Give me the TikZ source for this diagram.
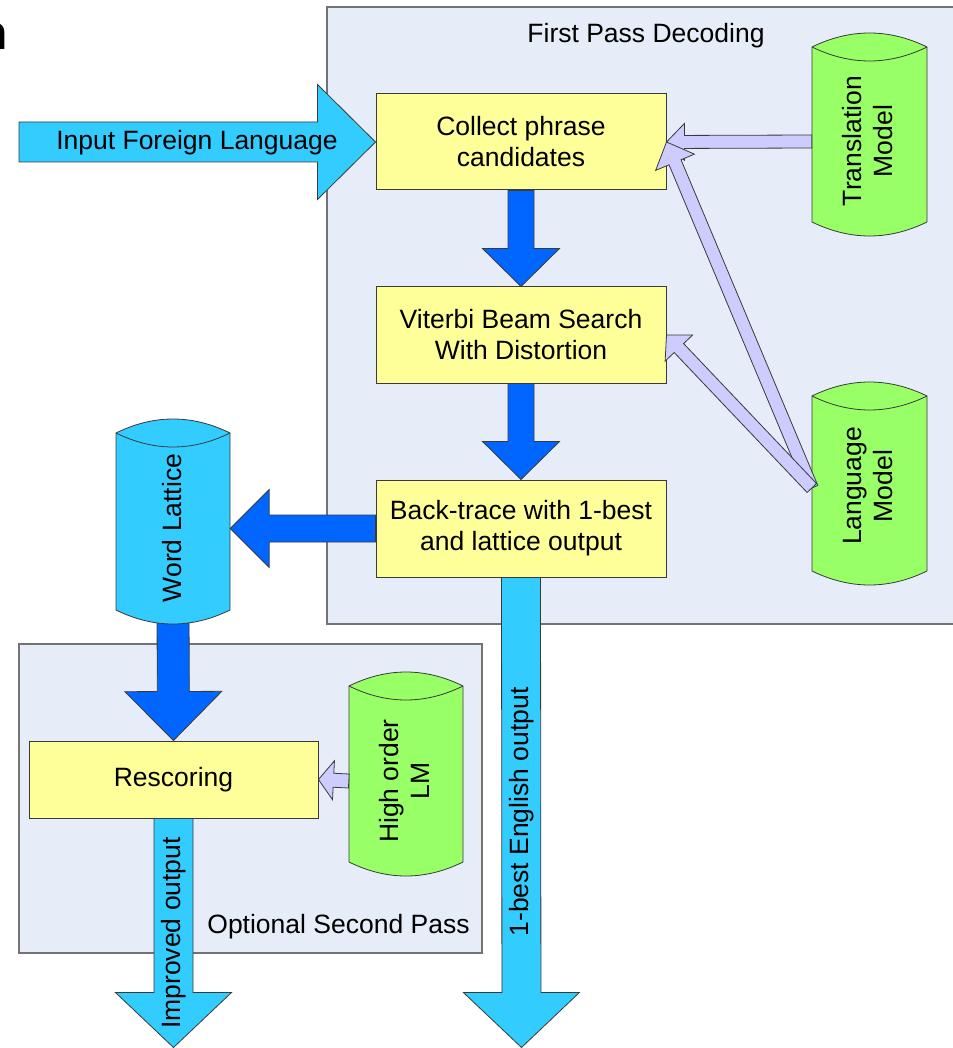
\documentclass[tikz,border=0pt]{standalone}
\usepackage{fontspec}
\setmainfont{Liberation Sans}
\usetikzlibrary{calc}
\definecolor{grpfill}{HTML}{E7EDF8}
\definecolor{boxfill}{HTML}{FFFF99}
\definecolor{cylgreen}{HTML}{99FF66}
\definecolor{bigblue}{HTML}{0066FF}
\definecolor{skyblue}{HTML}{33CCFF}
\definecolor{lav}{HTML}{CCCCFF}
\definecolor{edgegray}{HTML}{3A3A3A}

% block arrow: #1 style, #2 from, #3 to, #4 half shaft, #5 half head, #6 head length
\newcommand\blockarrow[6]{%
  \coordinate (ba-h) at ($(#3)!#6!(#2)$);
  \draw[#1] ($(#2)!#4!90:(#3)$) -- ($(ba-h)!#4!90:(#3)$) -- ($(ba-h)!#5!90:(#3)$)
    -- (#3) -- ($(ba-h)!#5!-90:(#3)$) -- ($(ba-h)!#4!-90:(#3)$) -- ($(#2)!#4!-90:(#3)$) -- cycle;
}
% cylinder: #1 style, #2 x left, #3 x right, #4 y top sides, #5 y bottom sides, #6 depth
\newcommand\drawcyl[6]{%
  \draw[#1] (#2,#4) -- (#2,#5)
    .. controls ({#2+(#3-#2)/3},{#5+4*#6/3}) and ({#3-(#3-#2)/3},{#5+4*#6/3}) .. (#3,#5)
    -- (#3,#4)
    .. controls ({#3-(#3-#2)/3},{#4-4*#6/3}) and ({#2+(#3-#2)/3},{#4-4*#6/3}) .. cycle;
  \draw[#1, fill=none] (#2,#4)
    .. controls ({#2+(#3-#2)/3},{#4+4*#6/3}) and ({#3-(#3-#2)/3},{#4+4*#6/3}) .. (#3,#4);
}

\begin{document}
\begin{tikzpicture}[x=1pt,y=-1pt,
  txt/.style={font=\fontsize{26.5}{31}\selectfont, inner sep=0pt, align=center},
  group/.style={fill=grpfill, draw=black!55, line width=1.2pt},
  procbox/.style={txt, draw=edgegray, line width=1pt, fill=boxfill},
  hole/.style={inner sep=0pt, draw=none},
  bigarr/.style={fill=bigblue, draw=edgegray, line width=0.8pt},
  outarr/.style={fill=skyblue, draw=edgegray, line width=0.8pt},
  thinarr/.style={fill=lav, draw=edgegray, line width=0.8pt},
  cylg/.style={fill=cylgreen, draw=edgegray, line width=0.8pt},
  cylb/.style={fill=skyblue, draw=edgegray, line width=0.8pt},
]
\useasboundingbox (0,0) rectangle (952,1048);
\fill[white] (0,0) rectangle (952,1048);

% title fragment cut by the frame
\node[anchor=base west, inner sep=0pt, font=\bfseries\fontsize{48}{48}\selectfont] (title) at (-21.5,50) {n};

% groups
\draw[group] (327,7) rectangle (968,624);
\draw[group] (19,644) rectangle (482,953);
\node[txt, anchor=base] (fpd) at (646,43) {First Pass Decoding};
\node[txt, anchor=base] (osp) at (338.5,933) {Optional Second Pass};

% process boxes
\node[procbox, minimum width=290pt, minimum height=96pt] (collect) at (521,142) {Collect phrase\\candidates};
\node[procbox, minimum width=290pt, minimum height=96pt] (viterbi) at (521,335) {Viterbi Beam Search\\With Distortion};
\node[procbox, minimum width=290pt, minimum height=97pt] (backtrace) at (521,528.5) {Back-trace with 1-best\\and lattice output};
\node[procbox, minimum width=289pt, minimum height=77pt] (rescoring) at (173.5,779.5) {Rescoring};

% cylinder anchors
\node[hole, minimum width=115pt, minimum height=161pt] (tm) at (869.5,141.5) {};
\node[hole, minimum width=115pt, minimum height=161pt] (lm) at (869.5,488) {};
\node[hole, minimum width=114pt, minimum height=163pt] (wl) at (173,528.5) {};
\node[hole, minimum width=114pt, minimum height=162pt] (hl) at (406,781) {};

% word lattice -> rescoring (behind the cylinder)
\coordinate (wlbot) at (173,612);
\blockarrow{bigarr}{wlbot}{rescoring.north}{16pt}{48.5pt}{49pt}

% cylinders
\drawcyl{cylg}{812}{927}{47}{222}{14}
\drawcyl{cylg}{812}{927}{396}{571}{14}
\drawcyl{cylb}{116}{230}{433}{610}{14}
\drawcyl{cylg}{349}{463}{686}{862}{14}
\node[txt, rotate=90] (tm-t) at (868,141) {Translation\\Model};
\node[txt, rotate=90] (lm-t) at (868,486) {Language\\Model};
\node[txt, rotate=90] (wl-t) at (172,528) {Word Lattice};
\node[txt, rotate=90] (hl-t) at (404,781) {High order\\LM};

% input arrow
\coordinate (instart) at (19,142);
\blockarrow{outarr}{instart}{collect.west}{20pt}{57.5pt}{58pt}
\node[txt, anchor=base] (inlbl) at (197,150) {Input Foreign Language};

% main flow
\blockarrow{bigarr}{collect.south}{viterbi.north}{13pt}{38.5pt}{38pt}
\blockarrow{bigarr}{viterbi.south}{backtrace.north}{13pt}{38.5pt}{38pt}
\blockarrow{bigarr}{backtrace.west}{wl.east}{13.5pt}{39pt}{39pt}

% outputs
\coordinate (bestend) at (521.5,1047.5);
\blockarrow{outarr}{backtrace.south}{bestend}{19.5pt}{58pt}{55pt}
\node[txt, rotate=90] (bestlbl) at (521.5,812) {1-best English output};
\coordinate (imprend) at (173.5,1047.5);
\blockarrow{outarr}{rescoring.south}{imprend}{19.5pt}{58pt}{55pt}
\node[txt, rotate=90] (imprlbl) at (174,933) {Improved output};

% model inputs
\blockarrow{thinarr}{hl.west}{rescoring.east}{7pt}{19.5pt}{15pt}
\blockarrow{thinarr}{tm.west}{collect.east}{6.5pt}{18.5pt}{18pt}
\blockarrow{thinarr}{lm.west}{collect.east}{6.5pt}{21pt}{22pt}
\blockarrow{thinarr}{lm.west}{viterbi.east}{6.5pt}{19pt}{18pt}
\end{tikzpicture}
\end{document}
